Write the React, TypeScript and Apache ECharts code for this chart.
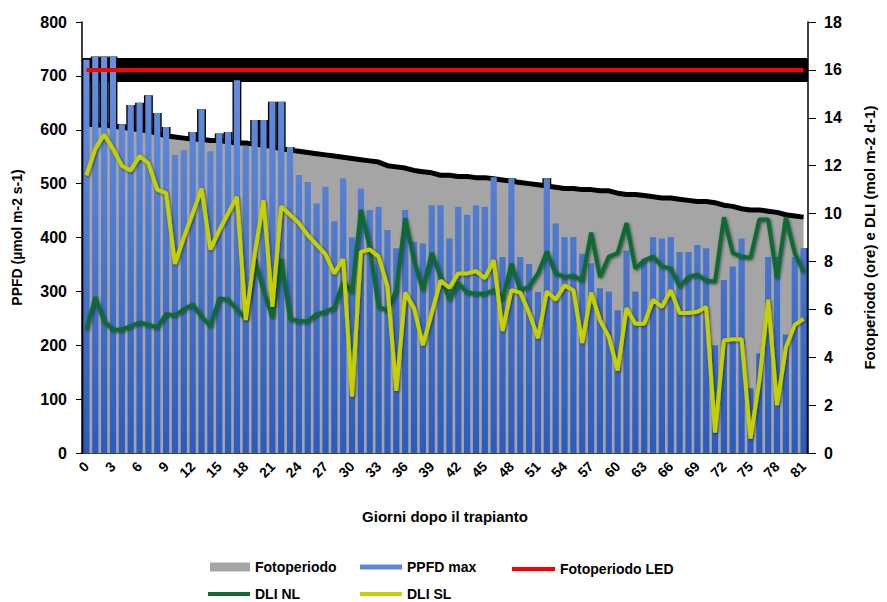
import React, { useEffect, useRef } from "react";
import * as echarts from "echarts";

const days = ["0","1","2","3","4","5","6","7","8","9","10","11","12","13","14","15","16","17","18","19","20","21","22","23","24","25","26","27","28","29","30","31","32","33","34","35","36","37","38","39","40","41","42","43","44","45","46","47","48","49","50","51","52","53","54","55","56","57","58","59","60","61","62","63","64","65","66","67","68","69","70","71","72","73","74","75","76","77","78","79","80","81"];

// Fotoperiodo naturale (ore) - asse destro
const fotoperiodo = [13.75,13.7,13.7,13.65,13.6,13.55,13.5,13.45,13.35,13.25,13.2,13.15,13.1,13.1,13.05,13.05,13.0,12.95,12.95,12.9,12.85,12.8,12.7,12.65,12.6,12.55,12.5,12.45,12.4,12.35,12.3,12.25,12.2,12.15,12.0,11.95,11.9,11.8,11.75,11.7,11.6,11.6,11.55,11.55,11.5,11.5,11.45,11.4,11.35,11.3,11.25,11.2,11.15,11.1,11.05,11.05,11.0,11.0,10.95,10.95,10.85,10.8,10.8,10.75,10.7,10.65,10.65,10.6,10.55,10.5,10.5,10.45,10.35,10.3,10.2,10.15,10.15,10.1,10.05,9.95,9.9,9.85];

// PPFD max (µmol m-2 s-1) - asse sinistro
const ppfdMax = [730,736,736,736,610,646,650,664,631,605,553,562,596,638,560,593,596,692,570,618,618,652,652,568,516,503,463,494,430,510,400,491,451,457,414,380,451,392,389,460,460,398,457,442,460,457,512,364,510,364,351,299,510,426,401,401,370,352,306,300,265,376,300,360,401,398,401,373,373,386,380,200,321,346,398,120,185,364,364,220,364,380];

// Fotoperiodo LED (ore)
const fotoperiodoLED = [16,16,16,16,16,16,16,16,16,16,16,16,16,16,16,16,16,16,16,16,16,16,16,16,16,16,16,16,16,16,16,16,16,16,16,16,16,16,16,16,16,16,16,16,16,16,16,16,16,16,16,16,16,16,16,16,16,16,16,16,16,16,16,16,16,16,16,16,16,16,16,16,16,16,16,16,16,16,16,16,16,16];

// DLI luce naturale (mol m-2 d-1)
const dliNL = [5.15,6.5,5.5,5.15,5.15,5.3,5.45,5.35,5.25,5.8,5.75,6.0,6.2,5.7,5.3,6.45,6.4,6.0,5.6,8.1,6.8,5.65,8.1,5.6,5.5,5.5,5.8,5.9,6.05,7.15,6.7,10.15,8.6,6.1,5.95,6.8,9.8,8.05,6.8,8.35,7.35,6.4,7.1,6.7,6.65,6.65,6.8,6.4,7.9,6.8,6.95,7.5,8.4,7.5,7.35,7.4,7.2,9.2,7.35,8.2,8.35,9.6,7.7,8.05,8.2,7.8,7.7,6.95,7.35,7.45,7.2,7.15,9.85,8.35,8.2,8.15,9.75,9.75,7.3,9.85,8.35,7.55];

// DLI luce supplementare (mol m-2 d-1)
const dliSL = [11.6,12.7,13.3,12.7,12.0,11.8,12.4,12.1,11.0,10.85,7.9,9.0,10.0,11.05,8.5,9.3,10.0,10.7,5.55,8.3,10.55,6.1,10.3,9.95,9.6,9.1,8.7,8.3,7.5,8.1,2.35,8.4,8.5,8.2,6.95,2.6,6.7,6.05,4.5,5.85,7.2,6.9,7.5,7.5,7.6,7.3,8.05,5.1,6.8,6.7,5.85,4.8,6.75,6.4,7.0,6.8,4.6,6.7,5.55,4.85,3.45,6.05,5.4,5.4,6.4,6.1,6.8,5.85,5.85,5.9,6.1,0.85,4.7,4.75,4.75,0.6,3.0,6.4,2.0,4.4,5.35,5.6];

const FONT = "'Liberation Sans', Arial, sans-serif";

export default function App() {
  const ref = useRef<HTMLDivElement>(null);
  useEffect(() => {
    const chart = echarts.init(ref.current!, null, { renderer: "svg" });
    const legendText = { fontFamily: FONT, fontWeight: "bold" as const, fontSize: 14, color: "#000" };
    const blueGrad = new echarts.graphic.LinearGradient(0, 22, 0, 453, [
      { offset: 0, color: "#6d95e0" },
      { offset: 1, color: "#2c5bbd" },
    ], true);
    const lineShadow = { shadowColor: "rgba(0,0,0,0.55)", shadowBlur: 3, shadowOffsetX: 1, shadowOffsetY: 1 };
    chart.setOption({
      animation: false,
      backgroundColor: "#ffffff",
      grid: { left: 82, right: 79, top: 22, bottom: 149 },
      xAxis: [
        {
          type: "category",
          data: days,
          boundaryGap: true,
          axisLine: { lineStyle: { color: "#000", width: 1.5 } },
          axisTick: { interval: 0, length: 5, lineStyle: { color: "#000" } },
          axisLabel: { interval: 2, rotate: 45, fontFamily: FONT, fontWeight: "bold", fontSize: 14, color: "#000", margin: 11 },
          splitLine: { show: false },
          name: "Giorni dopo il trapianto",
          nameLocation: "middle",
          nameGap: 56,
          nameTextStyle: { fontFamily: FONT, fontWeight: "bold", fontSize: 15, color: "#000" },
        },
        { type: "category", data: days, boundaryGap: true, show: false },
        { type: "category", data: days, boundaryGap: false, show: false },
      ],
      yAxis: [
        {
          type: "value",
          min: 0,
          max: 800,
          interval: 100,
          position: "left",
          axisLine: { show: true, lineStyle: { color: "#000", width: 1.5 } },
          axisTick: { show: true, length: 6, lineStyle: { color: "#000" } },
          axisLabel: { fontFamily: FONT, fontWeight: "bold", fontSize: 16, color: "#000", margin: 15 },
          splitLine: { show: false },
          name: "PPFD (µmol m-2 s-1)",
          nameLocation: "middle",
          nameRotate: 90,
          nameGap: 58,
          nameTextStyle: { fontFamily: FONT, fontWeight: "bold", fontSize: 14, color: "#000" },
        },
        {
          type: "value",
          min: 0,
          max: 18,
          interval: 2,
          position: "right",
          axisLine: { show: true, lineStyle: { color: "#000", width: 1.5 } },
          axisTick: { show: true, length: 8, lineStyle: { color: "#000" } },
          axisLabel: { fontFamily: FONT, fontWeight: "bold", fontSize: 16, color: "#000", margin: 16 },
          splitLine: { show: false },
          name: "Fotoperiodo (ore) e DLI (mol m-2 d-1)",
          nameLocation: "middle",
          nameRotate: 90,
          nameGap: 54,
          nameTextStyle: { fontFamily: FONT, fontWeight: "bold", fontSize: 15, color: "#000" },
        },
      ],
      legend: [
        { data: [{ name: "Fotoperiodo", icon: "rect", itemStyle: { color: "#a5a5a5", borderWidth: 0 } }], left: 210, top: 560, itemWidth: 40, itemHeight: 9, padding: 0, textStyle: legendText },
        { data: [{ name: "PPFD max", icon: "rect", itemStyle: { color: "#5b87d6", borderWidth: 0 } }], left: 360, top: 560, itemWidth: 42, itemHeight: 5, padding: 0, textStyle: legendText },
        { data: [{ name: "Fotoperiodo LED", icon: "rect", itemStyle: { color: "#ff0000", borderWidth: 0 } }], left: 512, top: 562, itemWidth: 43, itemHeight: 4, padding: 0, textStyle: legendText },
        { data: [{ name: "DLI NL", icon: "rect", itemStyle: { color: "#0d6b30", borderWidth: 0 } }], left: 208, top: 587, itemWidth: 42, itemHeight: 4, padding: 0, textStyle: legendText },
        { data: [{ name: "DLI SL", icon: "rect", itemStyle: { color: "#c5d000", borderWidth: 0 } }], left: 360, top: 587, itemWidth: 42, itemHeight: 4, padding: 0, textStyle: legendText },
      ],
      series: [
        {
          type: "line",
          xAxisIndex: 2,
          yAxisIndex: 1,
          data: fotoperiodoLED,
          symbol: "none",
          lineStyle: { color: "#000000", width: 24 },
          itemStyle: { color: "#000000" },
          silent: true,
          z: 1,
        },
        {
          type: "bar",
          xAxisIndex: 1,
          yAxisIndex: 0,
          data: ppfdMax,
          barWidth: "100%",
          itemStyle: { color: "#000", borderColor: "#000", borderWidth: 6 },
          silent: true,
          z: 1,
        },
        {
          type: "line",
          name: "Fotoperiodo",
          xAxisIndex: 0,
          yAxisIndex: 1,
          data: fotoperiodo,
          symbol: "none",
          lineStyle: { color: "#000", width: 5 },
          itemStyle: { color: "#a5a5a5" },
          areaStyle: { color: "#a5a5a5", opacity: 1 },
          z: 2,
        },
        {
          type: "bar",
          name: "PPFD max",
          xAxisIndex: 0,
          yAxisIndex: 0,
          data: ppfdMax,
          barWidth: "70%",
          itemStyle: { color: blueGrad },
          z: 10,
        },
        {
          type: "line",
          name: "Fotoperiodo LED",
          xAxisIndex: 0,
          yAxisIndex: 1,
          data: fotoperiodoLED,
          symbol: "none",
          lineStyle: { color: "#ff0000", width: 4 },
          itemStyle: { color: "#ff0000" },
          z: 11,
        },
        {
          type: "line",
          name: "DLI NL",
          xAxisIndex: 0,
          yAxisIndex: 1,
          data: dliNL,
          symbol: "none",
          lineStyle: { color: "#0d6b30", width: 4, ...lineShadow },
          itemStyle: { color: "#0d6b30" },
          z: 12,
        },
        {
          type: "line",
          name: "DLI SL",
          xAxisIndex: 0,
          yAxisIndex: 1,
          data: dliSL,
          symbol: "none",
          lineStyle: { color: "#c5d000", width: 4, ...lineShadow },
          itemStyle: { color: "#c5d000" },
          z: 13,
        },
      ],
    });
    return () => chart.dispose();
  }, []);
  return <div ref={ref} style={{ position: "fixed", left: 0, top: 0, width: 887, height: 602 }} />;
}
